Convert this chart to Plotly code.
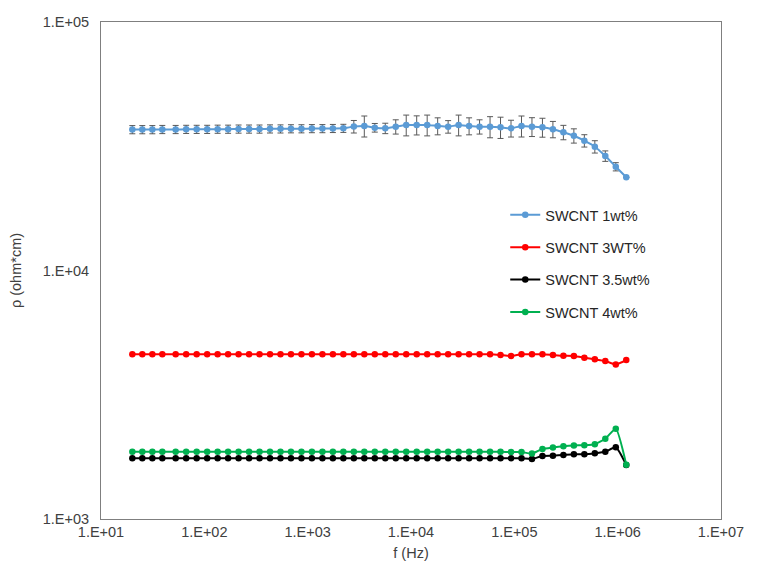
import plotly.graph_objects as go

freq_hz = [20.1, 25.1, 31.4, 39.2, 52.8, 66.7, 84.3, 106.5, 134.5, 169.8,
           214.5, 270.9, 342.1, 432.1, 545.8, 689.2, 870.5, 1099, 1389, 1754,
           2215, 2798, 3533, 4463, 5636, 7118, 8990, 11355, 14340, 18113,
           22876, 28890, 36490, 46085, 58210, 73520, 92860, 117280, 148120, 187070,
           236270, 298400, 376880, 476000, 601170, 759270, 958960, 1211100]

rho_1wt = [36900, 36900, 36900, 36950, 36950, 37000, 37000, 37000, 37050, 37050,
           37100, 37100, 37100, 37150, 37150, 37200, 37200, 37250, 37250, 37300,
           37350, 37950, 38150, 37550, 37340, 37900, 38510, 38510, 38510, 38150,
           37900, 38510, 38150, 37900, 37900, 37690, 37340, 38150, 37900, 37690,
           37000, 35980, 34860, 33290, 31490, 28890, 26160, 23720]

err_1wt = [1400] * 21 + [2200, 3700, 1500, 1800, 2500, 3700, 3400, 3700, 3000,
                         2200, 3700, 3000, 2500, 3700, 3700, 2900, 3700, 3300, 3300,
                         2800, 2400, 2300, 1900, 1800, 1400, 1000, 0]

rho_3wt = [4600] * 35 + [4570, 4530, 4600, 4600, 4600, 4570, 4540, 4530, 4460,
                         4390, 4320, 4190, 4360]

rho_35wt = [1755] * 38 + [1744, 1793, 1798, 1810, 1822, 1822, 1839, 1865, 1943, 1650]

rho_4wt = [1865] * 36 + [1860, 1860, 1834, 1913, 1940, 1962, 1976, 1982, 2000,
                         2104, 2308, 1655]

series_names = ["SWCNT 1wt%", "SWCNT 3WT%", "SWCNT 3.5wt%", "SWCNT 4wt%"]
series_colors = ["#5B9BD5", "#FF0000", "#000000", "#00B050"]

x_tickvals = [1e1, 1e2, 1e3, 1e4, 1e5, 1e6, 1e7]
x_ticktext = ["1.E+01", "1.E+02", "1.E+03", "1.E+04", "1.E+05", "1.E+06", "1.E+07"]
y_tickvals = [1e3, 1e4, 1e5]
y_ticktext = ["1.E+03", "1.E+04", "1.E+05"]

fig = go.Figure()
data = [rho_1wt, rho_3wt, rho_35wt, rho_4wt]
for i, (name, col, ys) in enumerate(zip(series_names, series_colors, data)):
    kw = {}
    if i == 0:
        kw["error_y"] = dict(type="data", array=err_1wt, visible=True,
                             color="#595959", thickness=1, width=3)
    fig.add_trace(go.Scatter(
        x=freq_hz, y=ys, name=name, mode="lines+markers",
        line=dict(color=col, width=2, shape="spline", smoothing=0.5),
        marker=dict(color=col, size=6.5, symbol="circle"),
        legendgroup=name,
        **kw))

fig.update_layout(
    width=750, height=563,
    margin=dict(l=93, r=37, t=14, b=52),
    paper_bgcolor="white", plot_bgcolor="white",
    font=dict(family="Liberation Sans, Arial, sans-serif", size=14.5, color="#404040"),
    showlegend=True,
    legend=dict(x=0.652, y=0.644, xanchor="left", yanchor="top",
                bgcolor="rgba(0,0,0,0)", font=dict(size=14.5, color="#262626"),
                tracegroupgap=10.5, traceorder="grouped", itemwidth=30),
)
fig.update_xaxes(type="log", range=[1, 7], tickvals=x_tickvals, ticktext=x_ticktext,
                 showgrid=False, showline=True, linecolor="#7F7F7F", linewidth=1,
                 mirror=True, ticks="", zeroline=False, automargin=False,
                 title=dict(text="f (Hz)", font=dict(size=14.5, color="#404040"), standoff=8))
fig.update_yaxes(type="log", range=[3, 5], tickvals=y_tickvals, ticktext=y_ticktext,
                 showgrid=False, showline=True, linecolor="#7F7F7F", linewidth=1,
                 mirror=True, ticks="", zeroline=False, ticklabelstandoff=8, automargin=False,
                 title=dict(text="ρ (ohm*cm)", font=dict(size=14.5, color="#404040"), standoff=18))

fig.write_html("out.html")
